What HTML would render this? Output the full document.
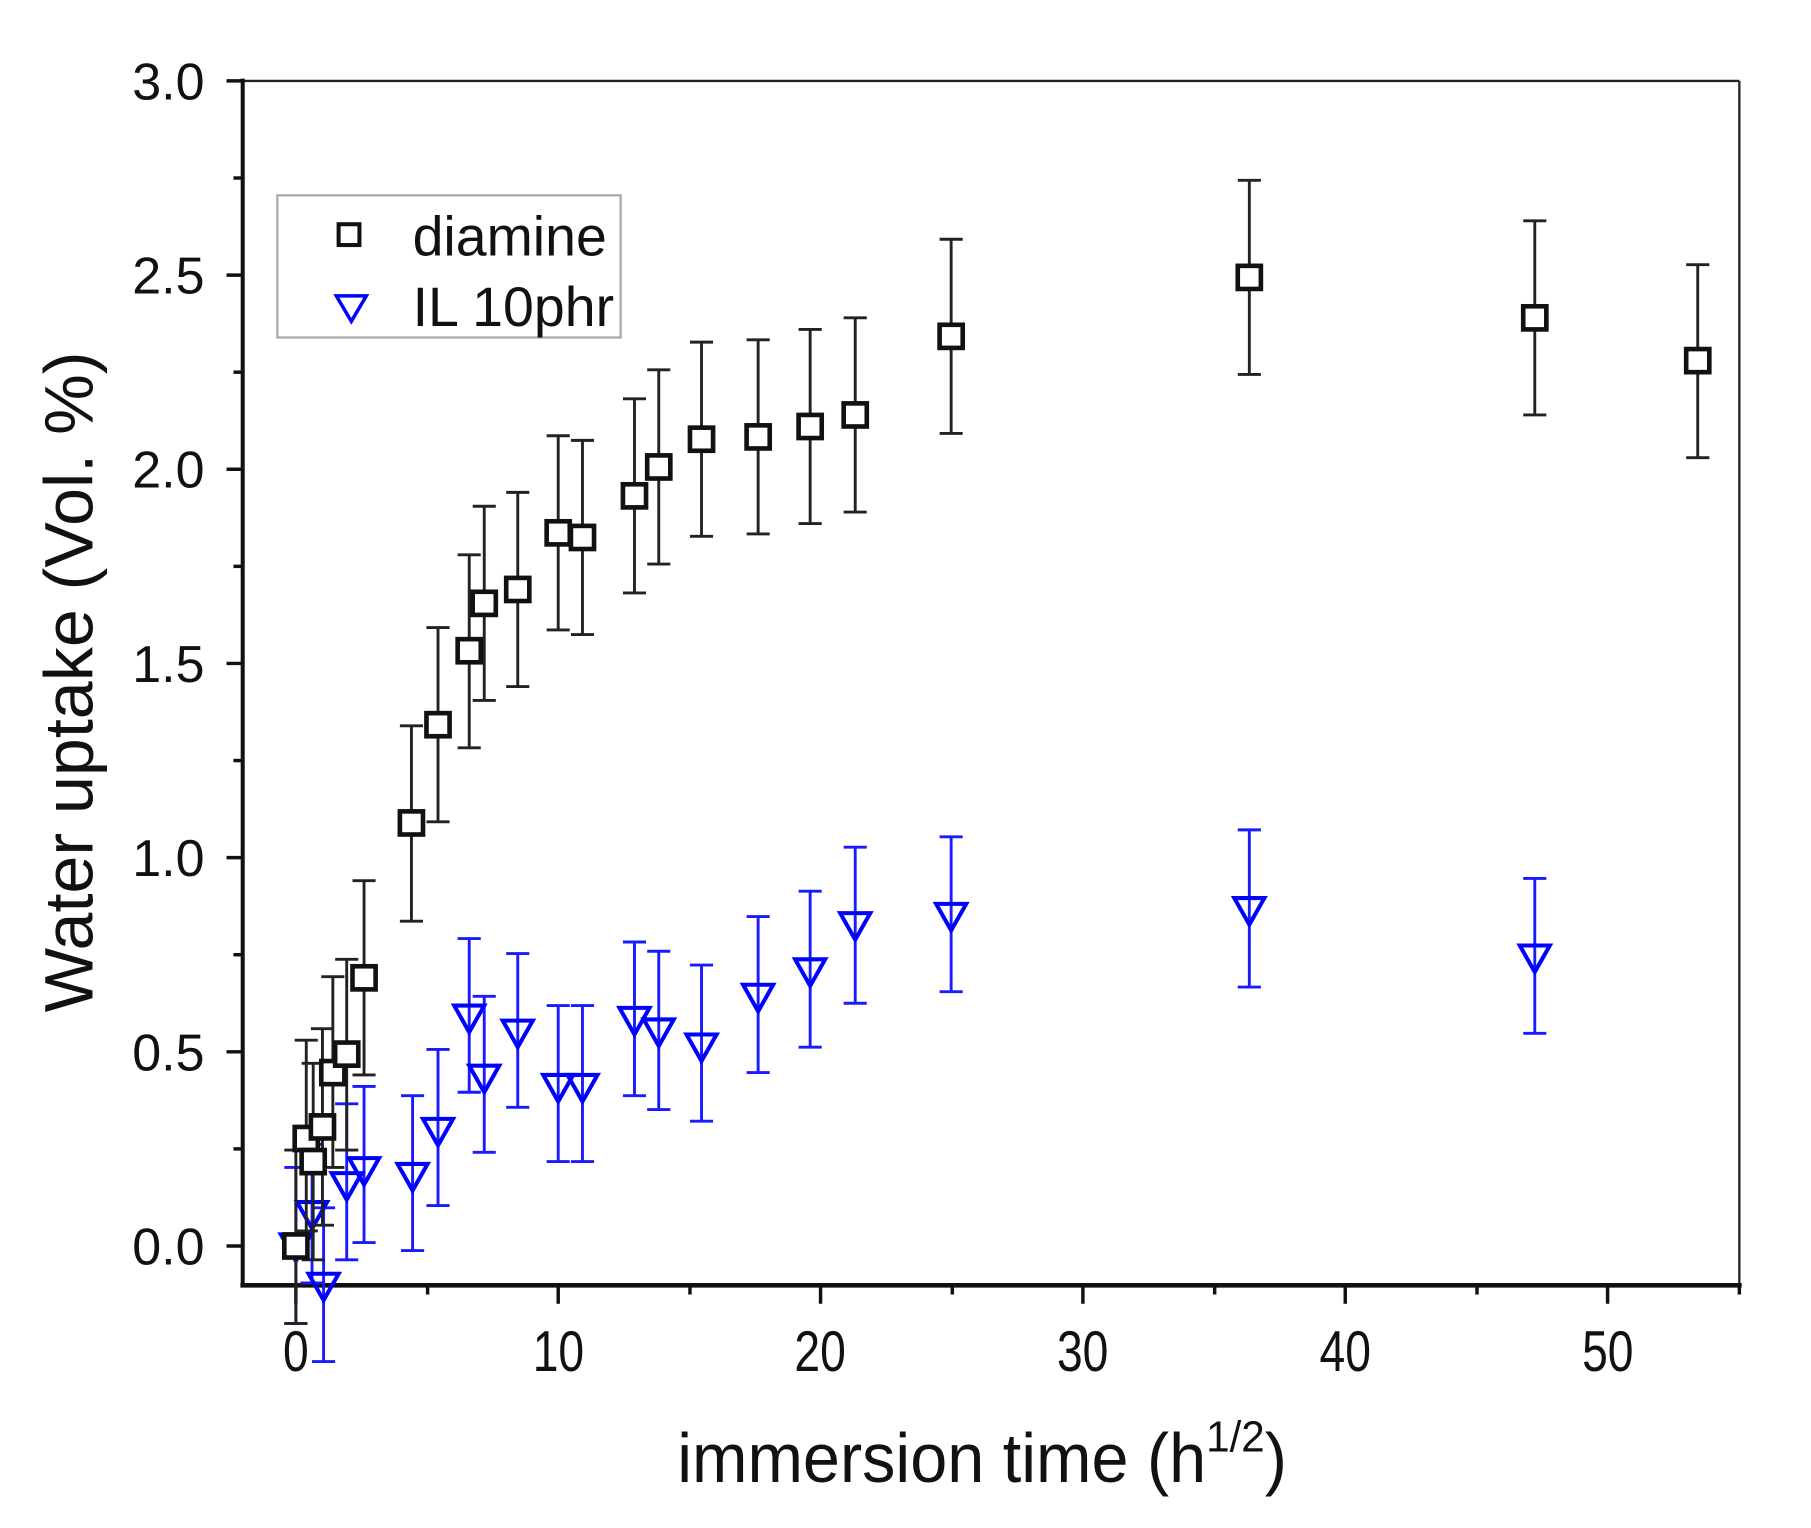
<!DOCTYPE html>
<html><head><meta charset="utf-8"><style>html,body{margin:0;padding:0;background:#fff}svg{display:block}</style></head>
<body>
<svg width="1811" height="1528" viewBox="0 0 1567 1322" preserveAspectRatio="none" xmlns="http://www.w3.org/2000/svg" font-family="Liberation Sans, sans-serif">
<rect width="1567" height="1322" fill="#fff"/>
<line x1="210" y1="70" x2="1505" y2="70" stroke="#222" stroke-width="2"/>
<line x1="1505" y1="70" x2="1505" y2="1112" stroke="#222" stroke-width="2"/>
<line x1="210" y1="68" x2="210" y2="1113" stroke="#111" stroke-width="3.5"/>
<line x1="208" y1="1112" x2="1507" y2="1112" stroke="#111" stroke-width="4"/>
<g stroke="#111" stroke-width="3">
<line x1="196" y1="70" x2="210" y2="70"/><line x1="196" y1="238" x2="210" y2="238"/><line x1="196" y1="406" x2="210" y2="406"/><line x1="196" y1="574" x2="210" y2="574"/><line x1="196" y1="742" x2="210" y2="742"/><line x1="196" y1="910" x2="210" y2="910"/><line x1="196" y1="1078" x2="210" y2="1078"/>
<line x1="202" y1="154" x2="210" y2="154"/><line x1="202" y1="322" x2="210" y2="322"/><line x1="202" y1="490" x2="210" y2="490"/><line x1="202" y1="658" x2="210" y2="658"/><line x1="202" y1="826" x2="210" y2="826"/><line x1="202" y1="994" x2="210" y2="994"/>
</g>
<g font-size="45" fill="#111" text-anchor="end">
<text x="177" y="86">3.0</text><text x="177" y="254">2.5</text><text x="177" y="422">2.0</text><text x="177" y="590">1.5</text><text x="177" y="758">1.0</text><text x="177" y="926">0.5</text><text x="177" y="1094">0.0</text>
</g>
<g stroke="#111" stroke-width="3">
<line x1="256" y1="1112" x2="256" y2="1128"/><line x1="483" y1="1112" x2="483" y2="1128"/><line x1="710" y1="1112" x2="710" y2="1128"/><line x1="937" y1="1112" x2="937" y2="1128"/><line x1="1164" y1="1112" x2="1164" y2="1128"/><line x1="1391" y1="1112" x2="1391" y2="1128"/>
<line x1="370" y1="1112" x2="370" y2="1120"/><line x1="597" y1="1112" x2="597" y2="1120"/><line x1="824" y1="1112" x2="824" y2="1120"/><line x1="1051" y1="1112" x2="1051" y2="1120"/><line x1="1278" y1="1112" x2="1278" y2="1120"/><line x1="1505" y1="1112" x2="1505" y2="1120"/>
</g>
<g font-size="50" fill="#111" text-anchor="middle" transform="scale(0.8,1)">
<text x="320" y="1186">0</text><text x="604" y="1186">10</text><text x="887" y="1186">20</text><text x="1171" y="1186">30</text><text x="1455" y="1186">40</text><text x="1739" y="1186">50</text>
</g>
<text transform="translate(80,590) rotate(-90)" font-size="59" fill="#111" text-anchor="middle">Water uptake (Vol. %)</text>
<g transform="translate(586,1282) scale(0.96,1)"><text x="0" y="0" font-size="60" fill="#111">immersion time (h<tspan font-size="38" dy="-26">1/2</tspan><tspan dy="26">)</tspan></text></g>
<rect x="240" y="169" width="297" height="123" fill="#fff" stroke="#aaa" stroke-width="2"/>
<rect x="293" y="194" width="18" height="18" fill="none" stroke="#111" stroke-width="3.5"/>
<polygon points="291,256 317,256 304,278" fill="none" stroke="#00f" stroke-width="3"/>
<text x="357" y="221" font-size="48" fill="#111">diamine</text>
<text x="357" y="282" font-size="48" fill="#111">IL 10phr</text>
<g stroke="#1a1aff" stroke-width="2.5" fill="none">
<path d="M256,1010V1145M246,1010h20M246,1145h20
M270,990V1110M260,990h20M260,1110h20
M280,1045V1178M270,1045h20M270,1178h20
M300,955V1090M290,955h20M290,1090h20
M315,940V1075M305,940h20M305,1075h20
M357,948V1082M347,948h20M347,1082h20
M379,908V1043M369,908h20M369,1043h20
M406,812V945M396,812h20M396,945h20
M419,862V997M409,862h20M409,997h20
M448,825V958M438,825h20M438,958h20
M483,870V1005M473,870h20M473,1005h20
M504,870V1005M494,870h20M494,1005h20
M549,815V948M539,815h20M539,948h20
M570,823V960M560,823h20M560,960h20
M607,835V970M597,835h20M597,970h20
M656,793V928M646,793h20M646,928h20
M701,771V906M691,771h20M691,906h20
M740,733V868M730,733h20M730,868h20
M823,724V858M813,724h20M813,858h20
M1081,718V854M1071,718h20M1071,854h20
M1328,760V894M1318,760h20M1318,894h20"/>
</g>
<g stroke="#00f" stroke-width="3.5" fill="none">
<polygon points="243,1068 269,1068 256,1091"/>
<polygon points="257,1040 283,1040 270,1063"/>
<polygon points="267,1102 293,1102 280,1125"/>
<polygon points="287,1015 313,1015 300,1038"/>
<polygon points="302,1002 328,1002 315,1025"/>
<polygon points="344,1007 370,1007 357,1030"/>
<polygon points="366,968 392,968 379,991"/>
<polygon points="393,870 419,870 406,893"/>
<polygon points="406,922 432,922 419,945"/>
<polygon points="435,883 461,883 448,906"/>
<polygon points="470,930 496,930 483,953"/>
<polygon points="491,930 517,930 504,953"/>
<polygon points="536,872 562,872 549,895"/>
<polygon points="557,882 583,882 570,905"/>
<polygon points="594,895 620,895 607,918"/>
<polygon points="643,852 669,852 656,875"/>
<polygon points="688,830 714,830 701,853"/>
<polygon points="727,790 753,790 740,813"/>
<polygon points="810,782 836,782 823,805"/>
<polygon points="1068,777 1094,777 1081,800"/>
<polygon points="1315,818 1341,818 1328,841"/>
</g>
<g stroke="#222" stroke-width="2.5" fill="none">
<path d="M256,995V1145M246,995h20M246,1145h20
M265,900V1065M255,900h20M255,1065h20
M271,920V1090M261,920h20M261,1090h20
M279,890V1060M269,890h20M269,1060h20
M288,845V1010M278,845h20M278,1010h20
M300,830V995M290,830h20M290,995h20
M315,762V930M305,762h20M305,930h20
M356,628V797M346,628h20M346,797h20
M379,543V711M369,543h20M369,711h20
M406,480V647M396,480h20M396,647h20
M419,438V606M409,438h20M409,606h20
M448,426V594M438,426h20M438,594h20
M483,377V545M473,377h20M473,545h20
M504,381V549M494,381h20M494,549h20
M549,345V513M539,345h20M539,513h20
M570,320V488M560,320h20M560,488h20
M607,296V464M597,296h20M597,464h20
M656,294V462M646,294h20M646,462h20
M701,285V453M691,285h20M691,453h20
M740,275V443M730,275h20M730,443h20
M823,207V375M813,207h20M813,375h20
M1081,156V324M1071,156h20M1071,324h20
M1328,191V359M1318,191h20M1318,359h20
M1469,229V396M1459,229h20M1459,396h20"/>
</g>
<g stroke="#111" stroke-width="4" fill="#fff">
<rect x="246" y="1068" width="20" height="20"/>
<rect x="255" y="975" width="20" height="20"/>
<rect x="261" y="995" width="20" height="20"/>
<rect x="269" y="965" width="20" height="20"/>
<rect x="278" y="918" width="20" height="20"/>
<rect x="290" y="902" width="20" height="20"/>
<rect x="305" y="836" width="20" height="20"/>
<rect x="346" y="702" width="20" height="20"/>
<rect x="369" y="617" width="20" height="20"/>
<rect x="396" y="553" width="20" height="20"/>
<rect x="409" y="512" width="20" height="20"/>
<rect x="438" y="500" width="20" height="20"/>
<rect x="473" y="451" width="20" height="20"/>
<rect x="494" y="455" width="20" height="20"/>
<rect x="539" y="419" width="20" height="20"/>
<rect x="560" y="394" width="20" height="20"/>
<rect x="597" y="370" width="20" height="20"/>
<rect x="646" y="368" width="20" height="20"/>
<rect x="691" y="359" width="20" height="20"/>
<rect x="730" y="349" width="20" height="20"/>
<rect x="813" y="281" width="20" height="20"/>
<rect x="1071" y="230" width="20" height="20"/>
<rect x="1318" y="265" width="20" height="20"/>
<rect x="1459" y="302" width="20" height="20"/>
</g>
</svg>
</body></html>
